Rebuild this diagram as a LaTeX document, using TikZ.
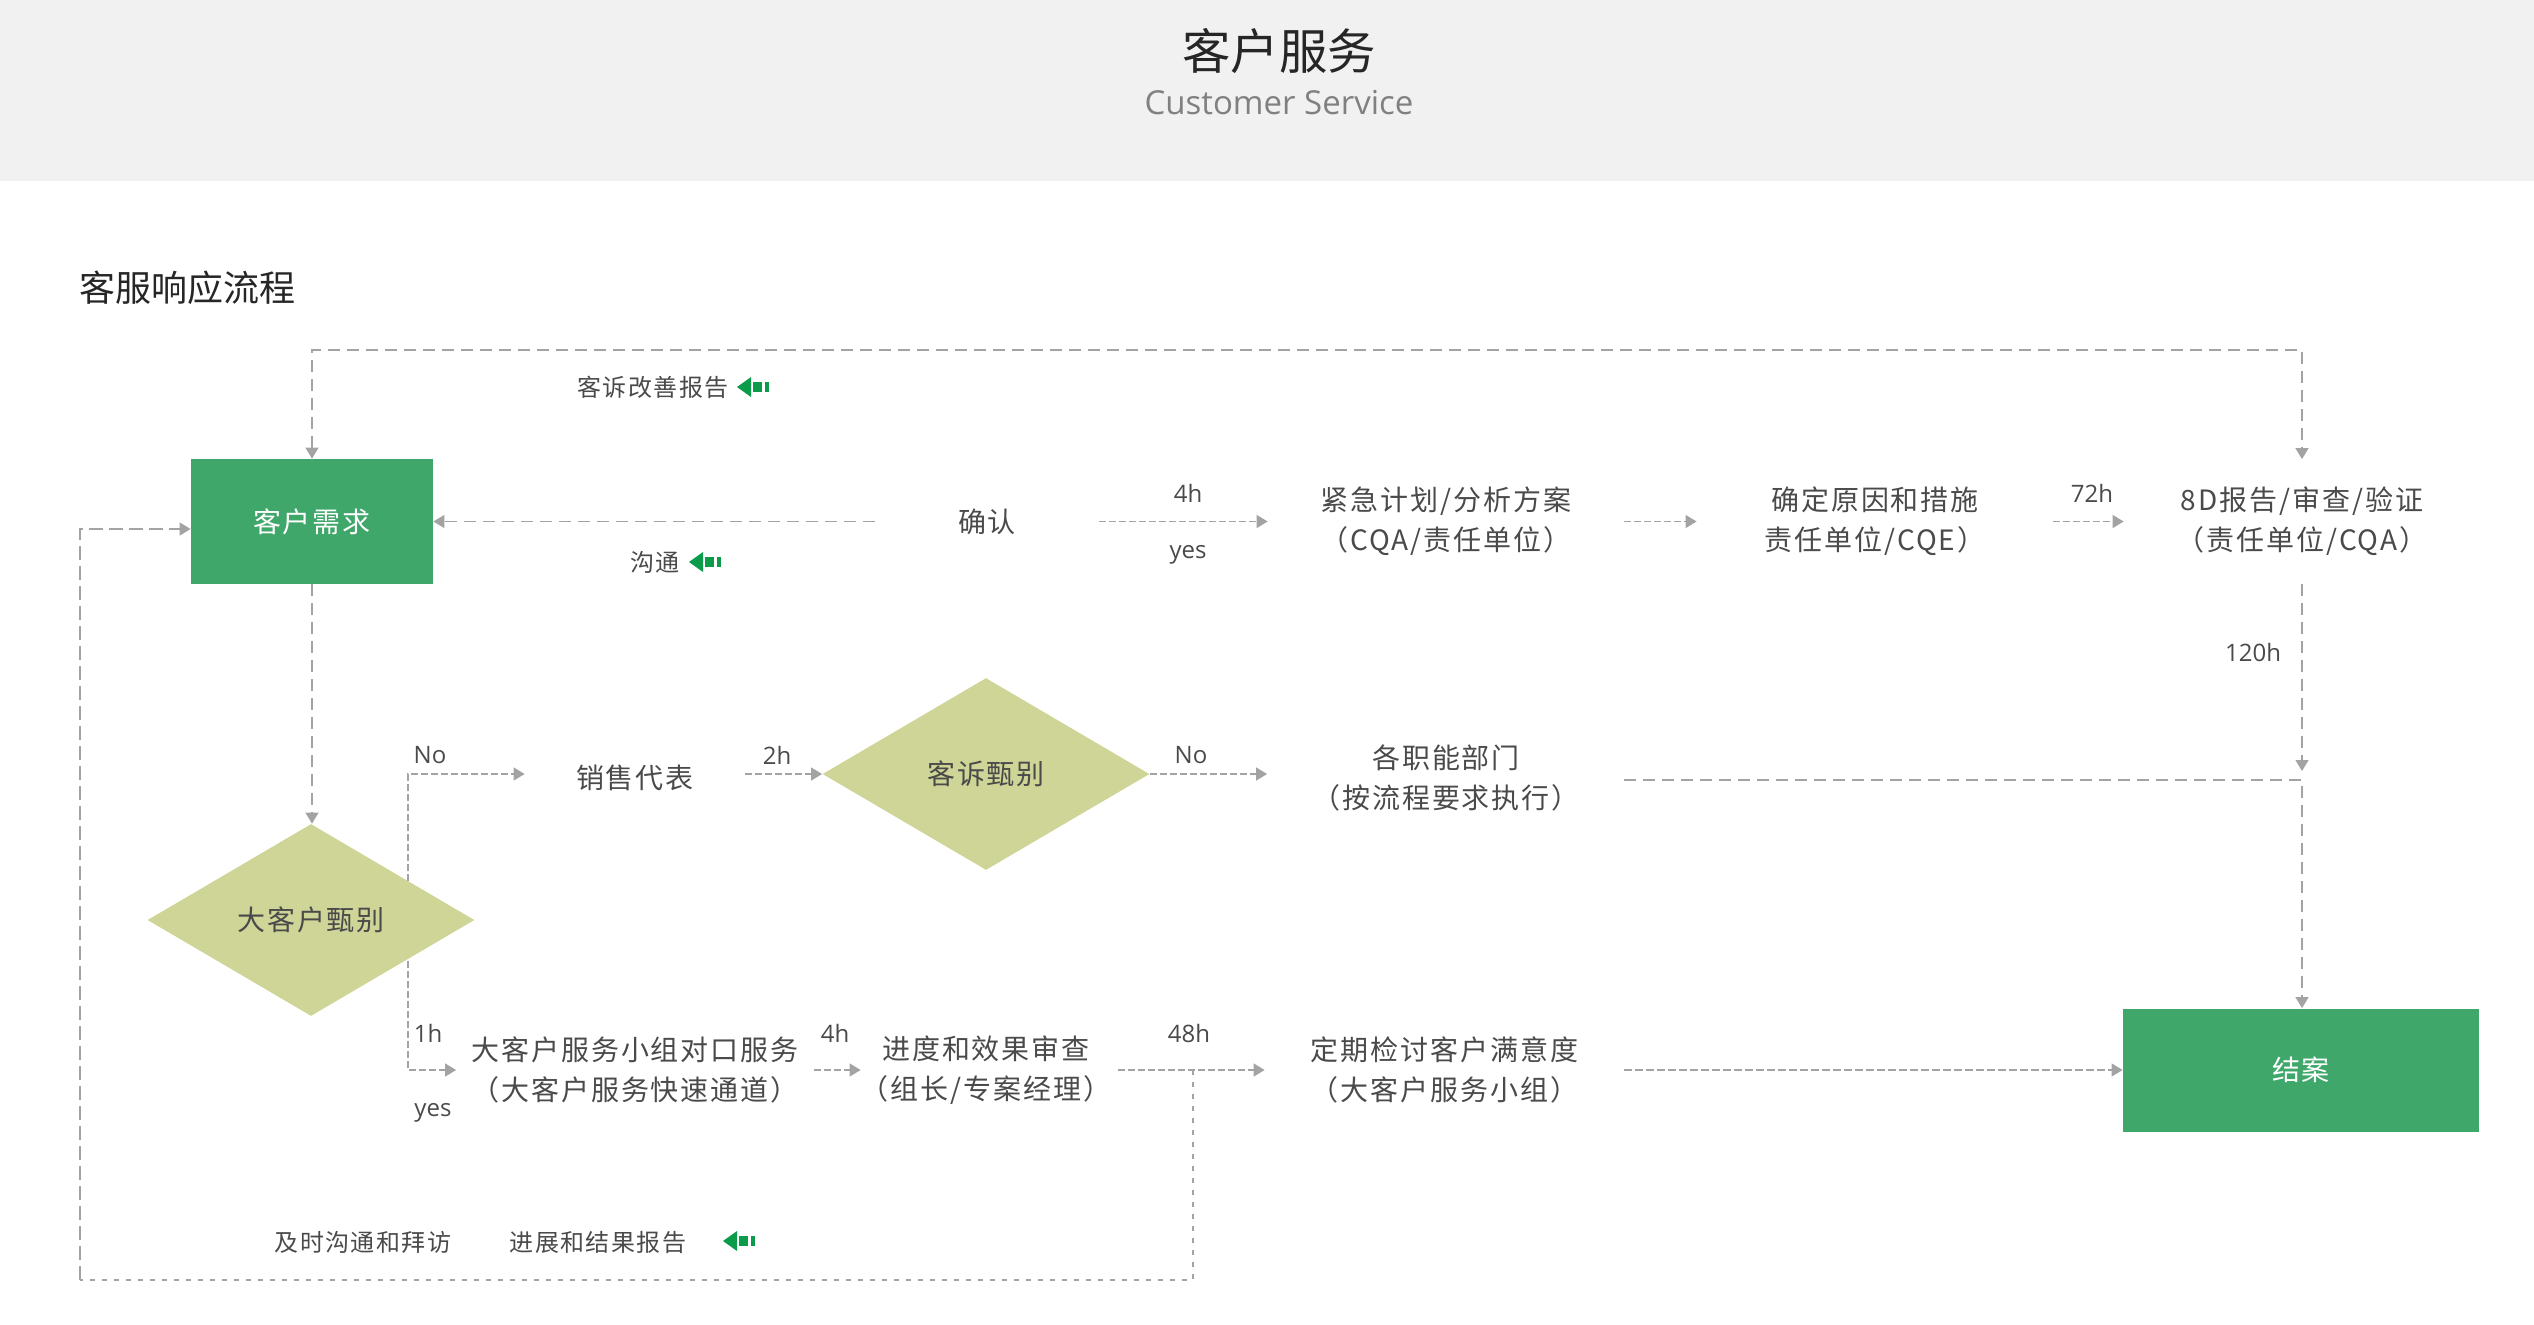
\documentclass[tikz,border=0pt]{standalone}
\usepackage{fontspec}
\usetikzlibrary{arrows.meta,shapes.geometric,backgrounds}
\setmainfont{Noto Sans CJK SC}
\newfontfamily\plainfont{Noto Sans CJK SC}
\newfontfamily\spacedfont[LetterSpace=7]{Noto Sans CJK SC}
\newfontfamily\smallfont[LetterSpace=6]{Noto Sans CJK SC}
\newfontfamily\latinfont{Open Sans}
\definecolor{txt}{HTML}{4A4A4A}
\definecolor{lineg}{HTML}{A3A3A3}
\definecolor{boxg}{HTML}{40A76B}
\definecolor{dia}{HTML}{CED596}
\definecolor{iconG}{HTML}{0A9B4B}
\definecolor{band}{HTML}{F1F1F1}
\tikzset{
  flowtext/.style={inner sep=0pt,text=txt,align=center,minimum height=62pt,font=\spacedfont\fontsize{14}{20}\selectfont},
  greenbox/.style={fill=boxg,text=white,inner sep=0pt,font=\spacedfont\fontsize{14}{20}\selectfont},
  choice/.style={diamond,aspect=1.7,fill=dia,text=txt,inner sep=0pt,font=\spacedfont\fontsize{14}{20}\selectfont},
  lab/.style={inner sep=0pt,text=txt,font=\latinfont\fontsize{12}{14}\selectfont},
  small/.style={inner sep=0pt,text=txt,font=\smallfont\fontsize{12}{14}\selectfont},
  link/.style={draw=lineg,line width=0.65pt,dash pattern=on 6pt off 3.5pt,-{Triangle[width=6.5pt,length=5.5pt]}},
  longlink/.style={draw=lineg,line width=0.65pt,dash pattern=on 4pt off 1.5pt,-{Triangle[width=6.5pt,length=5.5pt]}},
  shortlink/.style={draw=lineg,line width=0.65pt,dash pattern=on 3.5pt off 1.5pt,-{Triangle[width=6.5pt,length=5.5pt]}},
  dotlink/.style={draw=lineg,line width=0.65pt,dash pattern=on 2.5pt off 3.5pt},
  pics/flag/.style={code={
    \fill[iconG] (-8pt,0) -- (-1pt,-5pt) -- (-1pt,5pt) -- cycle;
    \fill[iconG] (0pt,-2.6pt) rectangle (4.5pt,2.6pt);
    \fill[iconG] (5.8pt,-2.6pt) rectangle (8pt,2.6pt);
  }}
}
\begin{document}
\begin{tikzpicture}[x=0.5pt,y=-0.5pt]
\useasboundingbox (0,0) rectangle (2534,1324);

% header
\node[inner sep=0pt,text=black!85,font=\plainfont\fontsize{24.2}{28}\selectfont] (title) at (1279,51) {客户服务};
\node[inner sep=0pt,text=black!50,font=\latinfont\fontsize{16.5}{20}\selectfont] (subtitle) at (1279,103) {Customer Service};
\node[anchor=west,inner sep=0pt,text=black!85,font=\plainfont\fontsize{18}{22}\selectfont] (section) at (79,288) {客服响应流程};

% top row
\node[greenbox,minimum width=121pt,minimum height=62.5pt] (need) at (312,521.5) {客户需求};
\node[flowtext,minimum width=112pt] (confirm) at (987,521.5) {确认};
\node[flowtext,minimum width=178pt] (plan) at (1446,521.5) {紧急计划/分析方案\\（CQA/责任单位）};
\node[flowtext,minimum width=178pt] (cause) at (1875,521.5) {确定原因和措施\\责任单位/CQE）};
\node[flowtext,minimum width=178pt] (report) at (2302,521.5) {8D报告/审查/验证\\（责任单位/CQA）};

% middle row
\node[choice,minimum width=163.5pt,minimum height=96pt] (big) at (311,920) {大客户甄别};
\node[flowtext,minimum width=110pt] (sales) at (635,778) {销售代表};
\node[choice,minimum width=163.5pt,minimum height=96pt] (complaint) at (986,774) {客诉甄别};
\node[flowtext,minimum width=178.5pt] (depts) at (1446,778) {各职能部门\\（按流程要求执行）};

% bottom row
\node[flowtext,minimum width=178.5pt] (team) at (635,1070) {大客户服务小组对口服务\\（大客户服务快速通道）};
\node[flowtext,minimum width=128.5pt] (review) at (989.5,1070) {};
\node[inner sep=0pt,text=txt,align=center,font=\spacedfont\fontsize{14}{20}\selectfont] (reviewtext) at (986,1070) {进度和效果审查\\（组长/专案经理）};
\node[flowtext,minimum width=179.5pt] (survey) at (1444.5,1070) {定期检讨客户满意度\\（大客户服务小组）};
\node[greenbox,minimum width=178pt,minimum height=61.5pt] (close) at (2301,1070) {结案};

% helper coordinates
\coordinate (branch) at (408,921);
\coordinate (join48) at (1193,1070);
\coordinate (loopbl) at (80,1280);
\coordinate (looptl) at (80,529);
\coordinate (topl) at (312,350);
\coordinate (topr) at (2302,350);
\coordinate (deptout) at (1624,780);
\coordinate (deptjoin) at (2302,780);
\coordinate (reportin) at (2302,771);

\begin{scope}[on background layer]
\fill[band] (0,0) rectangle (2534,181);
% top loop and top row
\draw[link,{Triangle[width=6.5pt,length=5.5pt]}-{Triangle[width=6.5pt,length=5.5pt]}] (need.north) -- (topl) -- (topr) -- (report.north);
\draw[link] (confirm.west) -- (need.east);
\draw[shortlink] (confirm.east) -- (plan.west);
\draw[shortlink] (plan.east) -- (cause.west);
\draw[shortlink] (cause.east) -- (report.west);
\draw[link] (report.south) -- (reportin);
\draw[link] (deptout) -- (deptjoin) -- (close.north -| deptjoin);
% left column
\draw[link] (need.south) -- (need.south |- big.north);
\draw[shortlink] (branch) -- (branch |- complaint.west) -- (sales.west |- complaint.west);
\draw[shortlink] (branch) -- (branch |- team.west) -- (team.west);
% middle row
\draw[shortlink] (sales.east |- complaint.west) -- (complaint.west);
\draw[shortlink] (complaint.east) -- (depts.west |- complaint.east);
% bottom row
\draw[shortlink] (team.east) -- (review.west);
\draw[shortlink] (review.east) -- (survey.west);
\draw[longlink] (survey.east) -- (close.west);
% lower loop
\draw[dotlink] (join48) -- (join48 |- loopbl) -- (loopbl);
\draw[link,dash pattern=on 7pt off 3pt] (loopbl) -- (looptl) -- (need.west |- looptl);
\end{scope}

% labels
\node[lab] (l4h) at (1188,493) {4h};
\node[lab] (lyes) at (1188,555) {yes};
\node[lab] (l72h) at (2092,493) {72h};
\node[lab] (l120h) at (2253,652) {120h};
\node[lab] (lno) at (430,755) {No};
\node[lab] (l2h) at (777,755) {2h};
\node[lab] (lno2) at (1191,755) {No};
\node[lab] (l1h) at (428,1033) {1h};
\node[lab] (lyes2) at (433,1113) {yes};
\node[lab] (l4hb) at (835,1033) {4h};
\node[lab] (l48h) at (1189,1033) {48h};

% notes
\node[small] (n1) at (653,387) {客诉改善报告};
\pic at (753,387) {flag};
\node[small] (n2) at (655,562) {沟通};
\pic at (705,562) {flag};
\node[small] (n3) at (363,1242) {及时沟通和拜访};
\node[small] (n4) at (598,1242) {进展和结果报告};
\pic at (739,1241) {flag};
\end{tikzpicture}
\end{document}
